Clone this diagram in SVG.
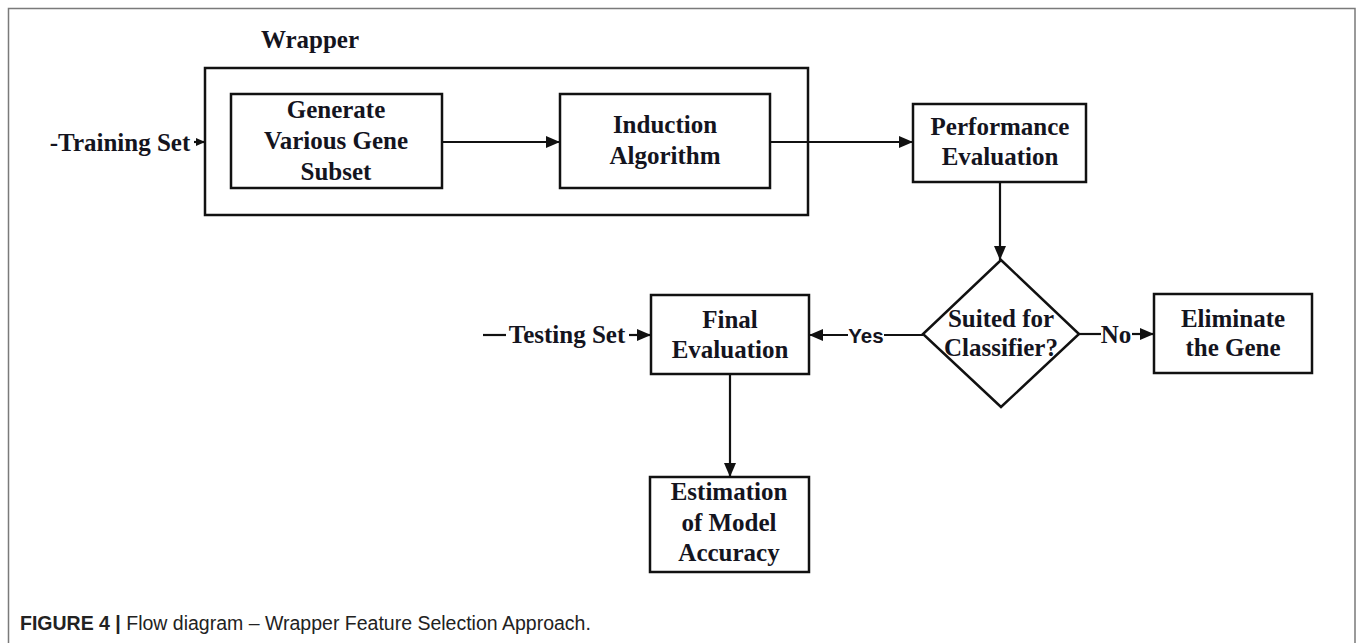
<svg xmlns="http://www.w3.org/2000/svg" width="1360" height="643" viewBox="0 0 1360 643">
  <style>
    .box { fill: #fff; stroke: #111; stroke-width: 2.5; }
    .frame { fill: none; stroke: #111; stroke-width: 2.5; }
    .lbl { font-family: "Liberation Serif", "Times New Roman", serif; font-weight: bold; font-size: 25px; fill: #14141e; text-anchor: middle; }
    .edge { fill: none; stroke: #111; stroke-width: 2.2; }
    .sans { font-family: "Liberation Sans", Arial, sans-serif; font-weight: bold; font-size: 20.5px; fill: #14141e; }
    .cap { font-family: "Liberation Sans", Arial, sans-serif; font-size: 19.5px; fill: #222; }
  </style>
  <defs>
    <marker id="head" viewBox="0 0 14 12" refX="14" refY="6" markerWidth="14" markerHeight="12" orient="auto" markerUnits="userSpaceOnUse">
      <path d="M0,0 L14,6 L0,12 z" fill="#111"/>
    </marker>
    <marker id="small" viewBox="0 0 9 8" refX="9" refY="4" markerWidth="9" markerHeight="8" orient="auto" markerUnits="userSpaceOnUse">
      <path d="M0,0 L9,4 L0,8 z" fill="#111"/>
    </marker>
  </defs>

  <rect width="1360" height="643" fill="#fff"/>
  <!-- page frame -->
  <path d="M8.5,645 V8.5 H1355 V645" fill="none" stroke="#7a7a7a" stroke-width="1.5"/>

  <!-- wrapper container -->
  <g id="wrapper">
    <text class="lbl" x="310" y="48">Wrapper</text>
    <rect class="frame" x="205" y="68" width="603" height="147"/>
  </g>

  <g id="generate">
    <rect class="box" x="231" y="94" width="211" height="94"/>
    <text class="lbl" x="336" y="118">Generate</text>
    <text class="lbl" x="336" y="149">Various Gene</text>
    <text class="lbl" x="336" y="180">Subset</text>
  </g>

  <g id="induction">
    <rect class="box" x="560" y="94" width="210" height="94"/>
    <text class="lbl" x="665" y="133">Induction</text>
    <text class="lbl" x="665" y="164">Algorithm</text>
  </g>

  <g id="performance">
    <rect class="box" x="913" y="104" width="173" height="78"/>
    <text class="lbl" x="1000" y="135">Performance</text>
    <text class="lbl" x="1000" y="165">Evaluation</text>
  </g>

  <g id="decision">
    <polygon points="1001,260 1079,334 1001,407 923,334" fill="#fff" stroke="#111" stroke-width="2.5"/>
    <text class="lbl" x="1001" y="327">Suited for</text>
    <text class="lbl" x="1001" y="356">Classifier?</text>
  </g>

  <g id="eliminate">
    <rect class="box" x="1154" y="294" width="158" height="79"/>
    <text class="lbl" x="1233" y="327">Eliminate</text>
    <text class="lbl" x="1233" y="356">the Gene</text>
  </g>

  <g id="final">
    <rect class="box" x="651" y="295" width="158" height="79"/>
    <text class="lbl" x="730" y="328">Final</text>
    <text class="lbl" x="730" y="358">Evaluation</text>
  </g>

  <g id="estimation">
    <rect class="box" x="650" y="477" width="159" height="95"/>
    <text class="lbl" x="729" y="500">Estimation</text>
    <text class="lbl" x="729" y="531">of Model</text>
    <text class="lbl" x="729" y="561">Accuracy</text>
  </g>

  <!-- connectors and their labels -->
  <g id="connectors">
    <text class="lbl" x="120" y="151">-Training Set</text>
    <path class="edge" d="M194,142 H205" marker-end="url(#small)"/>
    <path class="edge" d="M442,142 H560" marker-end="url(#head)"/>
    <path class="edge" d="M770,142 H913" marker-end="url(#head)"/>
    <path class="edge" d="M1000,182 V260" marker-end="url(#head)"/>

    <path class="edge" d="M483,335 H506"/>
    <text class="lbl" x="567" y="343">Testing Set</text>
    <path class="edge" d="M629,335 H651" marker-end="url(#head)"/>

    <path class="edge" d="M923,335 H884"/>
    <text class="sans" x="866" y="343" text-anchor="middle">Yes</text>
    <path class="edge" d="M848,335 H809" marker-end="url(#head)"/>

    <path class="edge" d="M1079,334 H1101"/>
    <text class="lbl" x="1116" y="343">No</text>
    <path class="edge" d="M1132,334 H1154" marker-end="url(#head)"/>

    <path class="edge" d="M730,374 V477" marker-end="url(#head)"/>
  </g>

  <g id="caption">
    <text class="cap" x="20" y="630"><tspan font-weight="bold">FIGURE 4 |</tspan> Flow diagram – Wrapper Feature Selection Approach.</text>
  </g>
</svg>
